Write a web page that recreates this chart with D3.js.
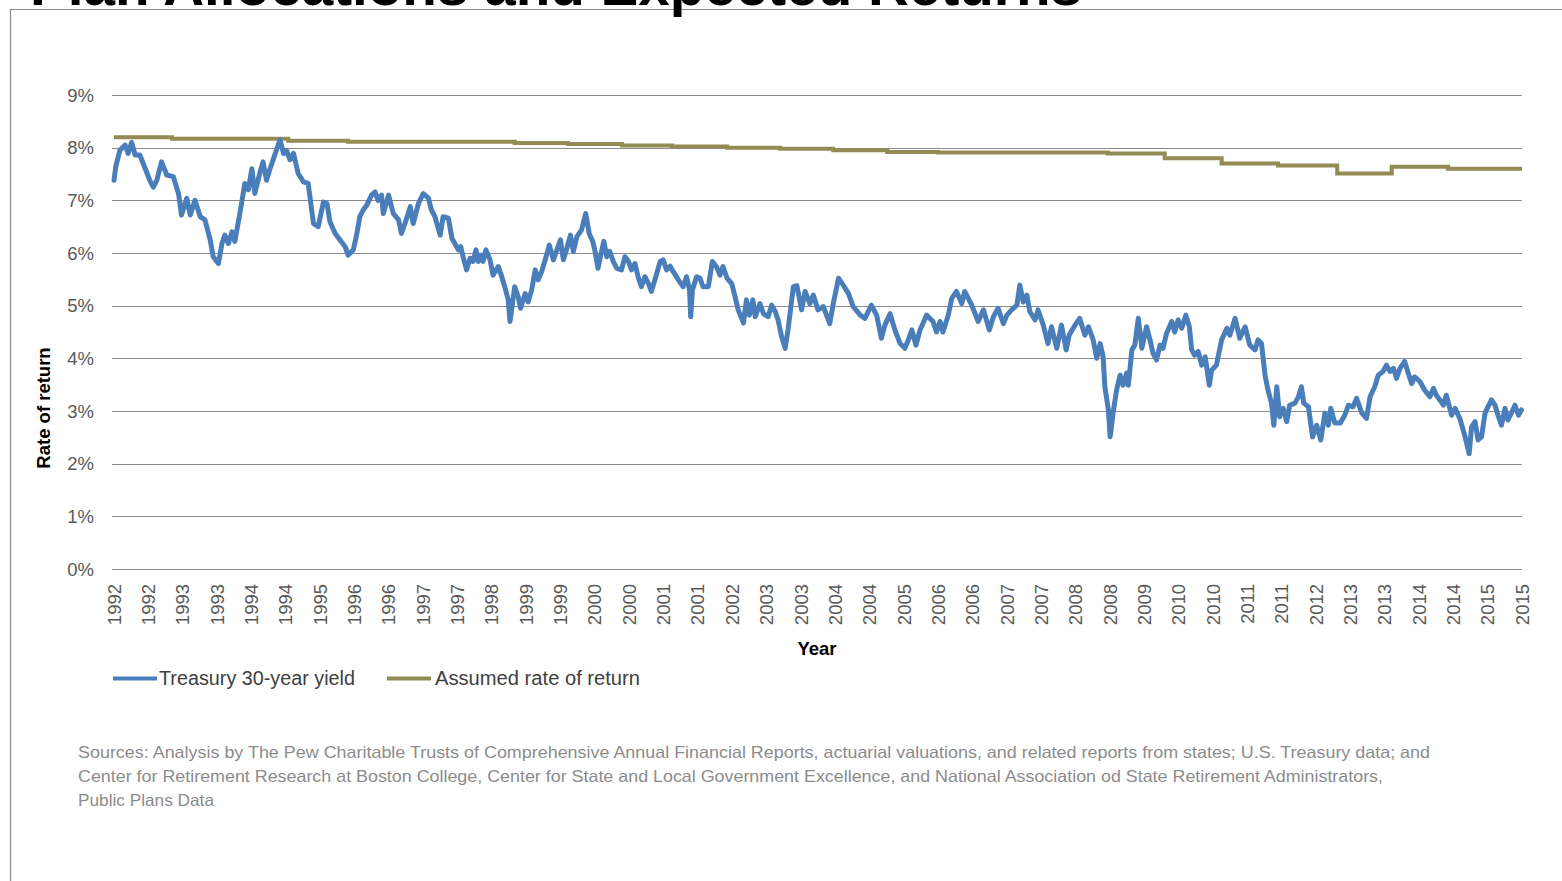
<!DOCTYPE html>
<html>
<head>
<meta charset="utf-8">
<script src="https://cdn.jsdelivr.net/npm/d3@7"></script>
<style>
  html, body { margin: 0; padding: 0; background: #ffffff; }
  svg { display: block; }
</style>
</head>
<body>
<div id="chart"></div>
<script>
// ---------------- DATA ----------------
const chartTitle = "Plan Allocations and Expected Returns";
const yAxisTitle = "Rate of return";
const xAxisTitle = "Year";
const seriesNames = ["Treasury 30-year yield", "Assumed rate of return"];
const yTickValues = [0, 1, 2, 3, 4, 5, 6, 7, 8, 9];
const xTickLabels = ["1992","1992","1993","1993","1994","1994","1995","1996","1996","1997","1997","1998","1999","1999","2000","2000","2001","2001","2002","2003","2003","2004","2004","2005","2006","2006","2007","2007","2008","2008","2009","2010","2010","2011","2011","2012","2013","2013","2014","2014","2015","2015"];
const xDomain = [1992.0, 2016.0];

// Treasury 30-year yield (%), [fractional year, yield]
const treasury30y = [
[1992.00,7.38],[1992.03,7.64],[1992.10,7.95],[1992.19,8.05],[1992.24,7.89],[1992.30,8.10],[1992.36,7.86],[1992.44,7.86],[1992.53,7.61],[1992.61,7.38],[1992.67,7.25],[1992.73,7.38],[1992.81,7.73],[1992.90,7.48],[1993.01,7.45],[1993.10,7.13],[1993.15,6.72],[1993.24,7.04],[1993.30,6.72],[1993.38,7.00],[1993.47,6.69],[1993.55,6.63],[1993.64,6.25],[1993.69,5.93],[1993.78,5.80],[1993.84,6.18],[1993.89,6.34],[1993.95,6.18],[1994.01,6.40],[1994.06,6.22],[1994.15,6.78],[1994.23,7.32],[1994.29,7.20],[1994.35,7.60],[1994.40,7.13],[1994.49,7.54],[1994.54,7.73],[1994.60,7.38],[1994.66,7.60],[1994.74,7.86],[1994.83,8.15],[1994.89,7.89],[1994.94,7.95],[1995.00,7.77],[1995.06,7.89],[1995.14,7.51],[1995.23,7.35],[1995.31,7.32],[1995.40,6.56],[1995.48,6.50],[1995.57,6.97],[1995.63,6.94],[1995.68,6.60],[1995.77,6.37],[1995.85,6.25],[1995.94,6.12],[1995.99,5.96],[1996.08,6.06],[1996.14,6.37],[1996.19,6.69],[1996.25,6.82],[1996.31,6.91],[1996.39,7.10],[1996.45,7.16],[1996.50,7.00],[1996.56,7.10],[1996.59,6.75],[1996.68,7.10],[1996.76,6.75],[1996.85,6.63],[1996.90,6.37],[1996.96,6.56],[1997.05,6.88],[1997.10,6.56],[1997.19,6.94],[1997.27,7.13],[1997.36,7.04],[1997.41,6.82],[1997.47,6.69],[1997.56,6.34],[1997.61,6.69],[1997.70,6.66],[1997.76,6.28],[1997.87,6.06],
[1997.91,6.12],[1997.95,5.93],[1998.01,5.68],[1998.07,5.90],[1998.12,5.84],[1998.17,6.06],[1998.21,5.84],[1998.25,5.96],[1998.29,5.84],[1998.34,6.06],[1998.41,5.87],[1998.46,5.58],[1998.55,5.74],[1998.61,5.55],[1998.66,5.36],[1998.72,5.11],[1998.75,4.70],[1998.80,5.11],[1998.83,5.36],[1998.89,5.17],[1998.93,4.95],[1999.01,5.23],[1999.06,5.07],[1999.12,5.30],[1999.18,5.68],[1999.23,5.49],[1999.29,5.65],[1999.35,5.87],[1999.42,6.15],[1999.49,5.87],[1999.55,6.06],[1999.61,6.25],[1999.66,5.87],[1999.72,6.09],[1999.78,6.34],[1999.83,6.03],[1999.89,6.31],[1999.97,6.44],[2000.04,6.75],[2000.10,6.37],[2000.16,6.22],[2000.20,6.03],[2000.25,5.71],[2000.31,6.03],[2000.35,6.22],[2000.40,5.93],[2000.45,6.03],[2000.51,5.84],[2000.57,5.71],[2000.65,5.68],[2000.71,5.93],[2000.77,5.84],[2000.82,5.68],[2000.88,5.80],[2000.94,5.52],[2000.99,5.36],[2001.05,5.55],[2001.11,5.42],[2001.16,5.27],[2001.22,5.49],[2001.31,5.84],[2001.36,5.87],[2001.42,5.68],[2001.48,5.75],[2001.53,5.65],[2001.62,5.49],[2001.70,5.36],[2001.76,5.55],[2001.81,5.30],[2001.83,4.79],[2001.86,5.30],[2001.93,5.55],[2001.99,5.52],[2002.04,5.36],[2002.13,5.36],[2002.20,5.84],[2002.27,5.74],[2002.33,5.58],[2002.38,5.74],[2002.45,5.52],[2002.53,5.42],[2002.58,5.20],[2002.64,4.92],[2002.73,4.67],[2002.78,5.11],[2002.83,4.82],[2002.89,5.11],[2002.93,4.79],[2003.01,5.04],[2003.07,4.85],[2003.15,4.79],[2003.21,5.01],[2003.27,4.89],[2003.32,4.73],[2003.38,4.41],[2003.44,4.19],[2003.49,4.55],[2003.58,5.36],[2003.64,5.38],[2003.72,4.92],[2003.78,5.27],[2003.86,5.04],[2003.92,5.20],[2004.00,4.92],[2004.09,4.98],[2004.20,4.66],[2004.26,5.04],[2004.35,5.52],[2004.43,5.39],[2004.52,5.23],[2004.60,4.98],[2004.72,4.82],[2004.80,4.76],[2004.91,5.01],[2005.00,4.82],[2005.08,4.38],[2005.14,4.63],[2005.23,4.85],[2005.31,4.54],[2005.40,4.28],[2005.48,4.19],[2005.54,4.35],[2005.60,4.54],[2005.67,4.25],[2005.74,4.54],[2005.85,4.82],[2005.96,4.70],[2006.02,4.50],[2006.08,4.70],[2006.13,4.50],[2006.22,4.82],[2006.28,5.14],[2006.36,5.27],[2006.45,5.04],[2006.50,5.27],[2006.62,5.01],[2006.73,4.70],[2006.82,4.92],[2006.92,4.54],[2006.99,4.79],[2007.07,4.95],[2007.16,4.66],[2007.22,4.82],[2007.30,4.92],[2007.39,5.01],[2007.44,5.39],[2007.50,5.07],[2007.56,5.20],[2007.61,4.89],[2007.70,4.73],[2007.75,4.92],[2007.84,4.63],[2007.92,4.28],[2007.98,4.60],[2008.07,4.19],[2008.15,4.63],[2008.23,4.16],[2008.28,4.44],[2008.38,4.63],[2008.46,4.76],[2008.55,4.44],[2008.61,4.60],[2008.69,4.35],[2008.75,4.00],[2008.81,4.28],[2008.86,4.03],[2008.89,3.46],[2008.95,3.02],[2008.98,2.51],[2009.03,2.96],[2009.09,3.40],[2009.15,3.68],[2009.20,3.49],[2009.26,3.72],[2009.29,3.49],[2009.35,4.16],[2009.40,4.25],[2009.46,4.76],[2009.52,4.19],[2009.60,4.60],[2009.66,4.35],[2009.71,4.10],[2009.77,3.97],[2009.83,4.25],[2009.88,4.19],[2009.94,4.47],[2010.03,4.70],[2010.08,4.50],[2010.14,4.73],[2010.20,4.57],[2010.27,4.82],[2010.33,4.60],[2010.37,4.16],[2010.42,4.06],[2010.48,4.13],[2010.54,3.87],[2010.60,4.03],[2010.67,3.49],[2010.71,3.78],[2010.79,3.87],[2010.88,4.35],[2010.97,4.57],[2011.02,4.44],[2011.11,4.76],[2011.19,4.38],[2011.28,4.60],[2011.36,4.25],[2011.45,4.16],[2011.50,4.35],[2011.56,4.28],[2011.62,3.68],[2011.67,3.40],[2011.73,3.15],[2011.77,2.73],[2011.82,3.46],[2011.87,2.89],[2011.93,3.05],[2011.99,2.80],[2012.04,3.11],[2012.13,3.15],[2012.19,3.27],[2012.24,3.46],[2012.28,3.15],[2012.36,3.08],[2012.43,2.51],[2012.50,2.73],[2012.57,2.45],[2012.64,2.96],[2012.70,2.73],[2012.74,3.05],[2012.81,2.77],[2012.90,2.77],[2012.98,2.92],[2013.04,3.11],[2013.12,3.08],[2013.18,3.24],[2013.27,2.96],[2013.35,2.86],[2013.41,3.27],[2013.49,3.46],[2013.55,3.68],[2013.63,3.75],[2013.69,3.87],[2013.75,3.75],[2013.81,3.81],[2013.86,3.62],[2013.92,3.81],[2014.00,3.94],[2014.06,3.72],[2014.12,3.52],[2014.17,3.65],[2014.26,3.56],[2014.34,3.40],[2014.43,3.27],[2014.49,3.43],[2014.54,3.30],[2014.60,3.21],[2014.66,3.11],[2014.71,3.30],[2014.80,2.92],[2014.86,3.05],[2014.94,2.86],[2015.03,2.51],[2015.10,2.19],[2015.14,2.70],[2015.20,2.80],[2015.25,2.45],[2015.31,2.51],[2015.37,2.96],[2015.42,3.08],[2015.48,3.21],[2015.54,3.11],[2015.59,2.92],[2015.65,2.73],[2015.71,3.05],[2015.76,2.83],[2015.82,2.96],[2015.88,3.11],[2015.94,2.92],[2015.99,3.02]
];

// Assumed rate of return (%), step changes: start year of each level
const assumedYears = [1992.00, 1992.99, 1994.97, 1995.99, 1998.83, 1999.74, 2000.66, 2001.51, 2002.45, 2003.35, 2004.26, 2005.18, 2006.04, 2008.94, 2009.91, 2010.88, 2011.84, 2012.85, 2013.78, 2014.74, 2016.00];
const assumedRate  = [8.20, 8.17, 8.13, 8.11, 8.09, 8.07, 8.04, 8.02, 8.00, 7.98, 7.95, 7.92, 7.91, 7.89, 7.80, 7.70, 7.66, 7.51, 7.64, 7.60, 7.60];

const sourceLines = [
  "Sources: Analysis  by The Pew Charitable Trusts of Comprehensive Annual Financial Reports, actuarial  valuations, and related reports from states;  U.S. Treasury data; and",
  "Center for Retirement  Research at Boston College, Center for State and Local Government Excellence, and National Association od State Retirement Administrators,",
  "Public Plans Data"
];

// ---------------- DRAW ----------------
const W = 1562, H = 881;
const plot = { left: 114, right: 1522, top: 95, bottom: 569 };
const colors = { treasury: "#4a7ebb", assumed: "#948a54", grid: "#8c8c8c", tick: "#595959", text: "#404040", source: "#8c8c8c" };
const font = "'Liberation Sans', Arial, sans-serif";

const svg = d3.select("#chart").append("svg")
  .attr("width", W).attr("height", H)
  .style("font-family", font);

svg.append("rect").attr("width", W).attr("height", H).attr("fill", "#fff");

// slide frame
svg.append("path")
  .attr("d", `M10.5,${H} L10.5,9.5 L${W},9.5`)
  .attr("fill", "none").attr("stroke", "#8a8a8a").attr("stroke-width", 1.2);

// title (cropped at top, as in the slide)
svg.append("text")
  .attr("x", 30).attr("y", 5)
  .attr("font-size", 56.5).attr("font-weight", "bold")
  .attr("fill", "#000")
  .attr("textLength", 1052).attr("lengthAdjust", "spacingAndGlyphs")
  .text(chartTitle);

const x = d3.scaleLinear().domain(xDomain).range([plot.left, plot.right]);
const y = d3.scaleLinear().domain([0, 9]).range([plot.bottom, plot.top]);

// gridlines
svg.append("g").selectAll("line").data(yTickValues).join("line")
  .attr("x1", plot.left - 2).attr("x2", plot.right)
  .attr("y1", d => Math.round(y(d)) + 0.5).attr("y2", d => Math.round(y(d)) + 0.5)
  .attr("stroke", colors.grid).attr("stroke-width", 1);

// y tick labels
svg.append("g").selectAll("text").data(yTickValues).join("text")
  .attr("x", 94).attr("y", d => y(d))
  .attr("dy", "0.36em")
  .attr("text-anchor", "end")
  .attr("font-size", 18.5).attr("fill", colors.tick)
  .text(d => d + "%");

// x tick labels (evenly spaced category labels)
const nTicks = xTickLabels.length;
const tickPos = d3.range(nTicks).map(i => xDomain[0] + i * (xDomain[1] - xDomain[0]) / (nTicks - 1));
svg.append("g").selectAll("text").data(xTickLabels).join("text")
  .attr("transform", (d, i) => `translate(${x(tickPos[i])},584) rotate(-90)`)
  .attr("text-anchor", "end")
  .attr("dy", "0.36em")
  .attr("font-size", 18.5).attr("fill", colors.tick)
  .text(d => d);

// axis titles
svg.append("text")
  .attr("transform", "translate(43,408) rotate(-90)")
  .attr("text-anchor", "middle").attr("dy", "0.36em")
  .attr("font-size", 18.5).attr("font-weight", "bold").attr("fill", "#000")
  .text(yAxisTitle);
svg.append("text")
  .attr("x", 817).attr("y", 648).attr("dy", "0.36em")
  .attr("text-anchor", "middle")
  .attr("font-size", 18.5).attr("font-weight", "bold").attr("fill", "#000")
  .text(xAxisTitle);

// assumed rate (step line)
const assumedData = assumedYears.map((yr, i) => [yr, assumedRate[i]]);
svg.append("path")
  .datum(assumedData)
  .attr("fill", "none").attr("stroke", colors.assumed).attr("stroke-width", 4)
  .attr("d", d3.line().x(d => x(d[0])).y(d => y(d[1])).curve(d3.curveStepAfter));

// treasury yield
svg.append("path")
  .datum(treasury30y)
  .attr("fill", "none").attr("stroke", colors.treasury).attr("stroke-width", 5)
  .attr("stroke-linejoin", "round").attr("stroke-linecap", "round")
  .attr("d", d3.line().x(d => x(d[0])).y(d => y(d[1])));

// legend
const legendItems = [
  { name: seriesNames[0], color: colors.treasury, x0: 113, x1: 157, tx: 159, w: 196 },
  { name: seriesNames[1], color: colors.assumed, x0: 387, x1: 431, tx: 435, w: 205 }
];
const lg = svg.append("g");
legendItems.forEach(it => {
  lg.append("line").attr("x1", it.x0).attr("x2", it.x1).attr("y1", 678.5).attr("y2", 678.5)
    .attr("stroke", it.color).attr("stroke-width", 4);
  lg.append("text").attr("x", it.tx).attr("y", 678).attr("dy", "0.36em")
    .attr("font-size", 19.5).attr("fill", colors.text)
    .attr("textLength", it.w).attr("lengthAdjust", "spacingAndGlyphs")
    .text(it.name);
});

// sources
const srcWidths = [1352, 1305, 136];
svg.append("g").selectAll("text").data(sourceLines).join("text")
  .attr("x", 78).attr("y", (d, i) => 752 + i * 24).attr("dy", "0.36em")
  .attr("font-size", 16.5).attr("fill", colors.source)
  .attr("textLength", (d, i) => srcWidths[i]).attr("lengthAdjust", "spacingAndGlyphs")
  .text(d => d);
</script>
</body>
</html>
